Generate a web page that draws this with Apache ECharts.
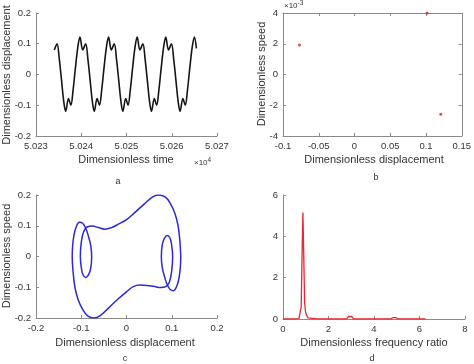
<!DOCTYPE html>
<html><head><meta charset="utf-8">
<script src="https://cdn.jsdelivr.net/npm/echarts@6/dist/echarts.min.js"></script>
<style>html,body{margin:0;padding:0;background:#fff}#c{width:474px;height:364px}</style>
</head><body><div id="c"></div>
<script>
// Panel a: time series
var timeA = [50234.04,50234.65,50235.15,50235.65,50236.15,50236.56,50237.18,50237.70,50238.20,50238.70,50239.25,
 50239.72,50240.32,50240.97,50241.47,50241.97,50242.47,50242.88,50243.50,50244.02,50244.52,50245.02,50245.57,
 50246.04,50246.64,50247.29,50247.79,50248.29,50248.79,50249.20,50249.82,50250.34,50250.84,50251.34,50251.89,
 50252.36,50252.96,50253.61,50254.11,50254.61,50255.11,50255.52,50256.14,50256.66,50257.16,50257.66,50258.21,
 50258.68,50259.28,50259.93,50260.43,50260.93,50261.43,50261.84,50262.46,50262.98,50263.48,50263.98,50264.53,
 50265.00,50265.45];
var dispA = [0.080,0.100,0.050,-0.020,-0.090,-0.120,-0.078,-0.100,-0.050,0.020,0.090,
 0.122,0.080,0.100,0.050,-0.020,-0.090,-0.120,-0.078,-0.100,-0.050,0.020,0.090,
 0.122,0.080,0.100,0.050,-0.020,-0.090,-0.120,-0.078,-0.100,-0.050,0.020,0.090,
 0.122,0.080,0.100,0.050,-0.020,-0.090,-0.120,-0.078,-0.100,-0.050,0.020,0.090,
 0.122,0.080,0.100,0.050,-0.020,-0.090,-0.120,-0.078,-0.100,-0.050,0.020,0.090,
 0.122,0.085];

// Panel b: Poincare points
var dispB = [-0.077, 0.1015, 0.1207];
var speedB = [0.00192, 0.0040, -0.00259];

// Panel c: phase portrait
var dispC = [0.120,0.119,0.116,0.111,0.104,0.097,0.090,0.084,0.079,0.077,0.079,0.084,0.090,0.096,0.100,0.102,0.100,0.095,0.087,0.075,0.060,0.045,0.030,0.015,0.000,-0.020,-0.040,-0.058,-0.072,-0.086,-0.097,-0.107,-0.114,-0.118,-0.120,
 -0.119,-0.116,-0.111,-0.104,-0.097,-0.090,-0.084,-0.079,-0.077,-0.079,-0.084,-0.090,-0.096,-0.100,-0.102,-0.100,-0.095,-0.087,-0.075,-0.062,-0.048,-0.033,-0.018,0.000,0.020,0.040,0.058,0.070,0.086,0.097,0.107,0.114,0.118,0.120];
var speedC = [0.000,-0.035,-0.070,-0.097,-0.111,-0.108,-0.092,-0.065,-0.035,0.000,0.038,0.060,0.068,0.060,0.035,0.000,-0.045,-0.082,-0.098,-0.101,-0.097,-0.094,-0.093,-0.098,-0.115,-0.140,-0.168,-0.192,-0.200,-0.193,-0.172,-0.140,-0.100,-0.050,0.000,
 0.035,0.070,0.097,0.111,0.108,0.092,0.065,0.035,0.000,-0.038,-0.060,-0.068,-0.060,-0.035,0.000,0.045,0.080,0.096,0.099,0.094,0.089,0.094,0.105,0.120,0.145,0.172,0.194,0.200,0.193,0.172,0.140,0.100,0.050,0.000];

// Panel d: spectrum
var freqD = [0,0.5,0.7,0.76,0.8,0.84,0.875,0.91,0.95,0.99,1.03,1.1,1.5,2.8,2.88,2.95,3.02,3.1,4.75,4.84,4.9,4.96,5.05,6.0,6.26];
var ampD  = [0,0.005,0.02,0.06,0.6,3.2,5.15,3.2,0.8,0.35,0.2,0.05,0.01,0.01,0.12,0.18,0.12,0.01,0.01,0.07,0.11,0.07,0.01,0.01,0];

function pairs(a,b){return a.map(function(v,i){return [v,b[i]];});}

var axisCol = '#8a8a8a', txtCol = '#333';
var FONT = 'Liberation Sans';
function vaxis(opt){
  var o = {type:'value', axisLine:{show:true,onZero:false,lineStyle:{color:axisCol,width:1}},
    axisTick:{show:true,inside:true,length:3,lineStyle:{color:axisCol}},
    splitLine:{show:false},
    axisLabel:{color:txtCol,fontFamily:FONT,fontSize:9.5,margin:5}};
  for (var k in opt) o[k]=opt[k];
  return o;
}
function lbl(fmt){return {color:txtCol,fontFamily:FONT,fontSize:9.5,margin:5,formatter:fmt};}
var lblNone = {show:false};

var chart = echarts.init(document.getElementById('c'), null, {renderer:'canvas'});
var option = {
  animation:false,
  textStyle:{fontFamily:FONT},
  grid:[
    {left:36,top:13,width:181,height:123},
    {left:283,top:13,width:182,height:123},
    {left:36,top:195,width:181,height:123},
    {left:283,top:195,width:182,height:124}
  ],
  xAxis:[
    vaxis({gridIndex:0,min:50230,max:50270,interval:10,axisLabel:lbl(function(v){return (v/1e4).toFixed(3);})}),
    vaxis({gridIndex:1,min:-0.1,max:0.15,interval:0.05,axisLabel:lbl(function(v){return String(Math.round(v*100)/100);})}),
    vaxis({gridIndex:2,min:-0.2,max:0.2,interval:0.1,axisLabel:lbl(function(v){return String(Math.round(v*10)/10);})}),
    vaxis({gridIndex:3,min:0,max:8,interval:2}),
    vaxis({gridIndex:1,min:-0.1,max:0.15,interval:0.05,position:'top',axisLabel:lblNone})
  ],
  yAxis:[
    vaxis({gridIndex:0,min:-0.2,max:0.2,interval:0.1,axisLabel:lbl(function(v){return String(Math.round(v*10)/10);})}),
    vaxis({gridIndex:1,min:-0.004,max:0.004,interval:0.002,axisLabel:lbl(function(v){return String(Math.round(v*1000));})}),
    vaxis({gridIndex:2,min:-0.2,max:0.2,interval:0.1,axisLabel:lbl(function(v){return String(Math.round(v*10)/10);})}),
    vaxis({gridIndex:3,min:0,max:6,interval:2}),
    vaxis({gridIndex:1,min:-0.004,max:0.004,interval:0.002,position:'right',axisLabel:lblNone})
  ],
  series:[
    {type:'line',xAxisIndex:0,yAxisIndex:0,data:pairs(timeA,dispA),showSymbol:false,smooth:0.35,
     lineStyle:{color:'#151515',width:1.6}},
    {type:'scatter',xAxisIndex:1,yAxisIndex:1,data:pairs(dispB,speedB),symbolSize:3,
     itemStyle:{color:'#d81c1c'}},
    {type:'line',xAxisIndex:2,yAxisIndex:2,data:pairs(dispC,speedC),showSymbol:false,smooth:0.4,
     lineStyle:{color:'#2a2ad6',width:1.5}},
    {type:'line',xAxisIndex:3,yAxisIndex:3,data:pairs(freqD,ampD),showSymbol:false,
     lineStyle:{color:'#e8262e',width:1.3}}
  ],
  graphic:[
    {type:'text',x:7,y:75,rotation:Math.PI/2,style:{text:'Dimensionless displacement',fill:txtCol,font:'11px "Liberation Sans"',textAlign:'center',textVerticalAlign:'middle'}},
    {type:'text',x:126,y:160,style:{text:'Dimensionless time',fill:txtCol,font:'11px "Liberation Sans"',textAlign:'center',textVerticalAlign:'middle'}},
    {type:'text',x:194,y:163,style:{text:'×10{s|4}',rich:{s:{fontSize:6.5,verticalAlign:'top',fill:txtCol,fontFamily:FONT,padding:[0,0,5,0]}},fill:txtCol,font:'8px "Liberation Sans"',textAlign:'left',textVerticalAlign:'middle'}},
    {type:'text',x:118,y:182,style:{text:'a',fill:txtCol,font:'9px "Liberation Sans"',textAlign:'center',textVerticalAlign:'middle'}},

    {type:'text',x:262,y:74,rotation:Math.PI/2,style:{text:'Dimensionless speed',fill:txtCol,font:'11px "Liberation Sans"',textAlign:'center',textVerticalAlign:'middle'}},
    {type:'text',x:374,y:160,style:{text:'Dimensionless displacement',fill:txtCol,font:'11px "Liberation Sans"',textAlign:'center',textVerticalAlign:'middle'}},
    {type:'text',x:284,y:6,style:{text:'×10{s|-3}',rich:{s:{fontSize:6.5,verticalAlign:'top',fill:txtCol,fontFamily:FONT,padding:[0,0,5,0]}},fill:txtCol,font:'8px "Liberation Sans"',textAlign:'left',textVerticalAlign:'middle'}},
    {type:'text',x:376,y:178,style:{text:'b',fill:txtCol,font:'9px "Liberation Sans"',textAlign:'center',textVerticalAlign:'middle'}},

    {type:'text',x:7,y:256,rotation:Math.PI/2,style:{text:'Dimensionless speed',fill:txtCol,font:'11px "Liberation Sans"',textAlign:'center',textVerticalAlign:'middle'}},
    {type:'text',x:125,y:343,style:{text:'Dimensionless displacement',fill:txtCol,font:'11px "Liberation Sans"',textAlign:'center',textVerticalAlign:'middle'}},
    {type:'text',x:125,y:359,style:{text:'c',fill:txtCol,font:'9px "Liberation Sans"',textAlign:'center',textVerticalAlign:'middle'}},

    {type:'text',x:374,y:343,style:{text:'Dimensionless frequency ratio',fill:txtCol,font:'11px "Liberation Sans"',textAlign:'center',textVerticalAlign:'middle'}},
    {type:'text',x:372,y:359,style:{text:'d',fill:txtCol,font:'9px "Liberation Sans"',textAlign:'center',textVerticalAlign:'middle'}}
  ]
};
chart.setOption(option);
</script></body></html>
